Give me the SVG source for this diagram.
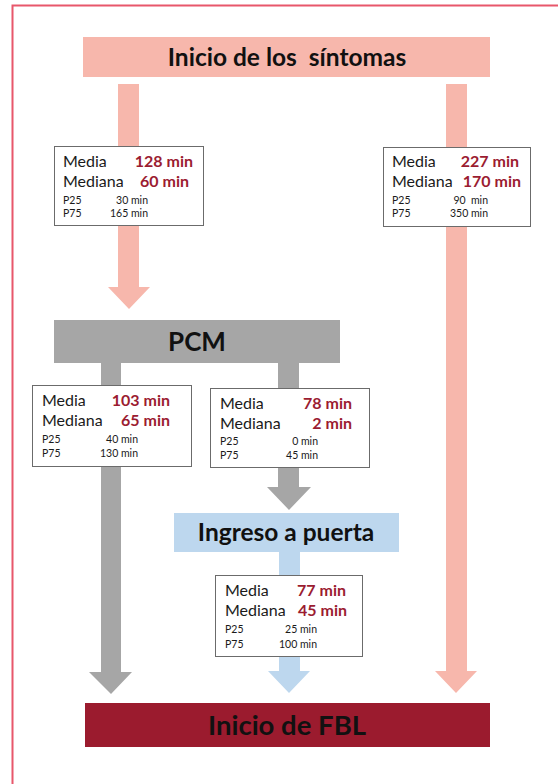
<svg xmlns="http://www.w3.org/2000/svg" width="558" height="784" viewBox="0 0 558 784">
<style>
.t{font-family:Lato,"Liberation Sans",sans-serif;fill:#1a1a1a}
.lbl{font-size:16px}
.val{font-size:16px;font-weight:bold;fill:#9b1c31;text-anchor:end}
.sm{font-size:10.5px}
.smv{font-size:10.5px;text-anchor:end}
.title{font-family:Lato,"Liberation Sans",sans-serif;font-weight:bold;fill:#111;text-anchor:middle;white-space:pre}
.box{fill:#fff;stroke:#6b6b6b;stroke-width:1}
.pink{fill:#f7b7ac}
.gray{fill:#a6a6a6}
.blue{fill:#bdd7ee}
</style>
<rect x="0" y="0" width="558" height="784" fill="#fff"/>
<rect x="12.5" y="5.5" width="600" height="800" fill="none" stroke="#e8576b" stroke-width="2"/>
<g id="connectors">
<polygon class="pink" points="118,84 139,84 139,287 150,287 129,309 108,287 118,287"/>
<polygon class="pink" points="446,84 467,84 467,671 477,671 456,693 435,671 446,671"/>
<polygon class="gray" points="101,362 121,362 121,672 132,672 111,694 89,672 101,672"/>
<rect class="gray" x="278" y="362" width="21" height="27"/>
<polygon class="gray" points="278,467 299,467 299,487 311,487 289,510 267,487 278,487"/>
<rect class="blue" x="279" y="551" width="21" height="25"/>
<polygon class="blue" points="279,656 300,656 300,671 310,671 289,693 268,671 279,671"/>
</g>
<g id="sintomas">
<rect class="pink" x="83" y="37" width="407" height="40"/>
<text class="title" x="287" y="66" font-size="24.5">Inicio de los  síntomas</text>
</g>
<g id="box1">
<rect class="box" x="54.5" y="146.5" width="149" height="79"/>
<text class="t lbl" x="63" y="167">Media</text>
<text class="t val" x="193" y="167">128 min</text>
<text class="t lbl" x="63" y="187">Mediana</text>
<text class="t val" x="189" y="187">60 min</text>
<text class="t sm" x="63" y="204">P25</text>
<text class="t smv" x="148" y="204">30 min</text>
<text class="t sm" x="63" y="217">P75</text>
<text class="t smv" x="148" y="217">165 min</text>
</g>
<g id="box2">
<rect class="box" x="383.5" y="147.5" width="147" height="79"/>
<text class="t lbl" x="392" y="167">Media</text>
<text class="t val" x="519" y="167">227 min</text>
<text class="t lbl" x="392" y="187">Mediana</text>
<text class="t val" x="521" y="187">170 min</text>
<text class="t sm" x="392" y="204">P25</text>
<text class="t smv" x="488" y="204" style="white-space:pre">90  min</text>
<text class="t sm" x="392" y="217">P75</text>
<text class="t smv" x="488" y="217">350 min</text>
</g>
<g id="pcm">
<rect class="gray" x="54" y="320" width="286" height="43"/>
<text class="title" x="197" y="351" font-size="26">PCM</text>
</g>
<g id="box3">
<rect class="box" x="32.5" y="385.5" width="159" height="81"/>
<text class="t lbl" x="42" y="406">Media</text>
<text class="t val" x="170" y="406">103 min</text>
<text class="t lbl" x="42" y="426">Mediana</text>
<text class="t val" x="170" y="426">65 min</text>
<text class="t sm" x="42" y="443">P25</text>
<text class="t smv" x="138" y="443">40 min</text>
<text class="t sm" x="42" y="457">P75</text>
<text class="t smv" x="138" y="457">130 min</text>
</g>
<g id="box4">
<rect class="box" x="210.5" y="388.5" width="159" height="79"/>
<text class="t lbl" x="220" y="409">Media</text>
<text class="t val" x="352" y="409">78 min</text>
<text class="t lbl" x="220" y="429">Mediana</text>
<text class="t val" x="352" y="429">2 min</text>
<text class="t sm" x="220" y="445">P25</text>
<text class="t smv" x="318" y="445">0 min</text>
<text class="t sm" x="220" y="459">P75</text>
<text class="t smv" x="318" y="459">45 min</text>
</g>
<g id="ingreso">
<rect class="blue" x="174" y="513" width="225" height="39"/>
<text class="title" x="286" y="541" font-size="24.5">Ingreso a puerta</text>
</g>
<g id="box5">
<rect class="box" x="215.5" y="575.5" width="147" height="81"/>
<text class="t lbl" x="225" y="596">Media</text>
<text class="t val" x="346" y="596">77 min</text>
<text class="t lbl" x="225" y="616">Mediana</text>
<text class="t val" x="347" y="616">45 min</text>
<text class="t sm" x="225" y="633">P25</text>
<text class="t smv" x="317" y="633">25 min</text>
<text class="t sm" x="225" y="648">P75</text>
<text class="t smv" x="317" y="648">100 min</text>
</g>
<g id="fbl">
<rect x="85" y="703" width="405" height="44" fill="#9b1b2e"/>
<text class="title" x="287" y="735" font-size="27.5">Inicio de FBL</text>
</g>
</svg>
